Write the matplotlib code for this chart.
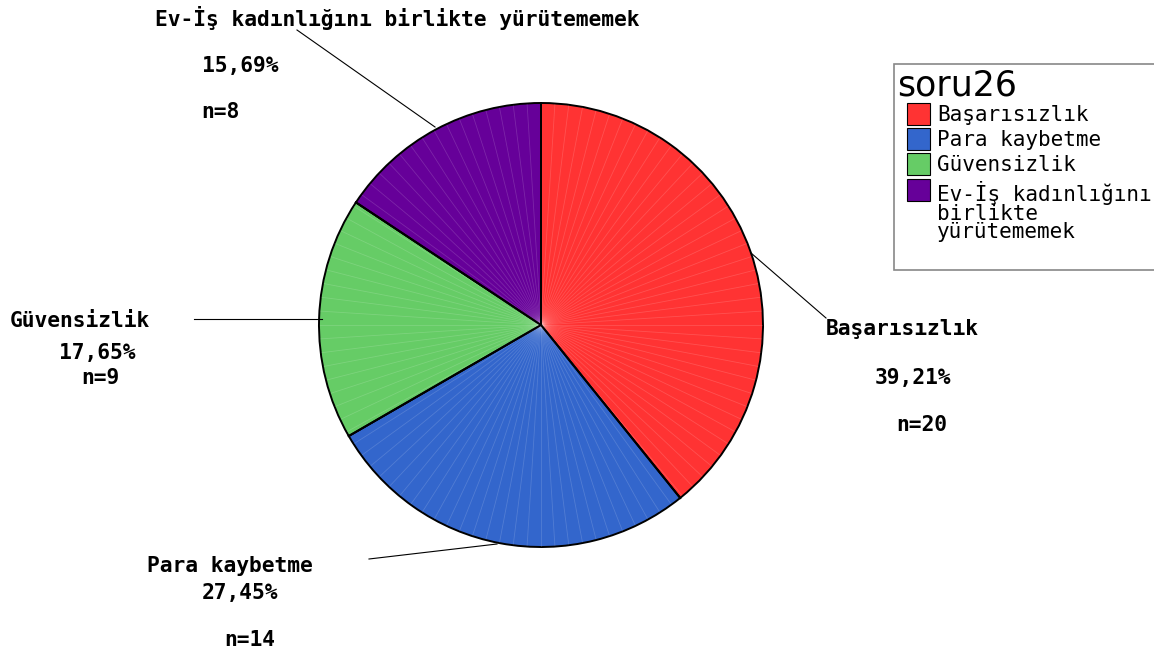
import numpy as np
import matplotlib.pyplot as plt
from matplotlib.patches import Rectangle

# soru26 verileri
kategoriler = ["Başarısızlık", "Para kaybetme", "Güvensizlik",
               "Ev-İş kadınlığını birlikte yürütememek"]
legend_etiket = ["Başarısızlık", "Para kaybetme", "Güvensizlik",
                 "Ev-İş kadınlığını\nbirlikte\nyürütememek"]
sayilar = [20, 14, 9, 8]
yuzdeler = ["39,21%", "27,45%", "17,65%", "15,69%"]
renkler = ["#FF3333", "#3366CC", "#66CC66", "#660099"]

W, H = 1154, 655
fig = plt.figure(figsize=(W / 100, H / 100), dpi=100)
ax = fig.add_axes([0, 0, 1, 1])

cx, cy, r = 541, H - 325, 222

# pasta
wedges, _ = ax.pie(sayilar, colors=renkler, startangle=90, counterclock=False,
                   center=(cx, cy), radius=r, frame=True,
                   wedgeprops=dict(edgecolor="black", linewidth=1.4))
ax.set_xlim(0, W)
ax.set_ylim(0, H)
ax.set_aspect("equal")
ax.axis("off")
for w in wedges:
    w.set_zorder(2)

# SPSS tarzı ince açık çizgiler
for a in np.arange(90, 450, 3.6):
    t = np.deg2rad(a)
    ax.plot([cx, cx + r * 0.995 * np.cos(t)], [cy, cy + r * 0.995 * np.sin(t)],
            color="white", alpha=0.15, lw=0.6, zorder=3)

# dilim sınırları tekrar
toplam = sum(sayilar)
aci = 90
for s in sayilar:
    t = np.deg2rad(aci)
    ax.plot([cx, cx + r * np.cos(t)], [cy, cy + r * np.sin(t)], color="black", lw=1.4, zorder=4)
    aci -= 360 * s / toplam

# etiketler
font = dict(family="DejaVu Sans Mono", fontweight="bold", fontsize=15.3, color="black")


def yaz(x, y, s, ha="left"):
    ax.text(x, H - y, s, ha=ha, va="center", **font)


# Başarısızlık
ax.plot([751, 826], [H - 253, H - 318], color="black", lw=0.8)
yaz(826, 329, kategoriler[0])
yaz(913, 378, yuzdeler[0], ha="center")
yaz(922, 425, "n=%d" % sayilar[0], ha="center")

# Para kaybetme
ax.plot([369, 497], [H - 559, H - 544], color="black", lw=0.8)
yaz(147, 566, kategoriler[1])
yaz(240, 593, yuzdeler[1], ha="center")
yaz(250, 640, "n=%d" % sayilar[1], ha="center")

# Güvensizlik
ax.plot([194, 322], [H - 319, H - 319], color="black", lw=0.8)
yaz(10, 321, kategoriler[2])
yaz(97, 353, yuzdeler[2], ha="center")
yaz(100, 378, "n=%d" % sayilar[2], ha="center")

# Ev-İş
ax.plot([297, 435], [H - 30, H - 127], color="black", lw=0.8)
yaz(155, 18, kategoriler[3])
yaz(240, 66, yuzdeler[3], ha="center")
yaz(220, 112, "n=%d" % sayilar[3], ha="center")

# lejant
ax.add_patch(Rectangle((894, H - 270), 300, 206, facecolor="white",
                       edgecolor="#888888", lw=1.2, clip_on=False, zorder=5))
ax.text(897, H - 96, "soru26", fontsize=25, family="DejaVu Sans", va="baseline", zorder=6)
ys = [114, 139, 164, 190]
for y, lab, c in zip(ys, legend_etiket, renkler):
    ax.add_patch(Rectangle((907, H - y - 11), 23, 22, facecolor=c,
                           edgecolor="black", lw=0.8, zorder=6))
    ax.text(937, H - y + 9, lab, fontsize=15.1, family="DejaVu Sans Mono",
            va="top", linespacing=0.92, zorder=6)

fig.savefig("out.png", dpi=100)
